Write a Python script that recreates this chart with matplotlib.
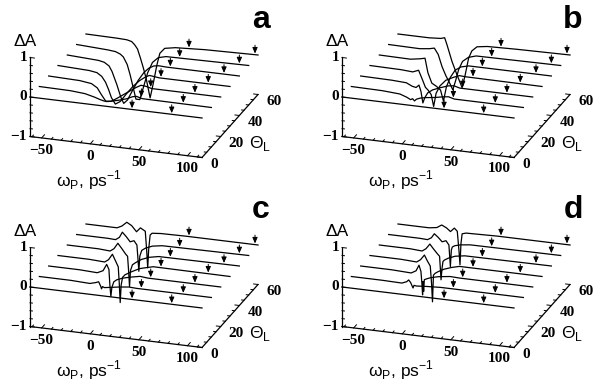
import numpy as np
import matplotlib
matplotlib.use('Agg')
import matplotlib.pyplot as plt

plt.rcParams['font.family'] = ['Liberation Sans', 'DejaVu Sans']

# angles of the traces and probe-frequency range
theta_list = [0, 10, 20, 30, 40, 50, 60]
w_lo, w_hi = -62, 115
theta_top = 60

# arrow marks (same in all panels)
arrow_w1 = [43, 43, 43, 44, 44, 44, 44]
arrow_w2 = [83.8, 86.1, 88.5, 92.6, 99.2, 105.4, 111.9]

# ---- panel a ----
a_w = [
    [-62, 115],
    [-62, -30, -15, -5, 0, 5, 12, 20, 28, 34, 38, 44, 115],
    [-62, -30, -18, -12, -8, -3, 2, 8, 15, 22, 28, 33, 38, 44, 115],
    [-62, -30, -22, -17, -13, -10, -7, -3, 2, 8, 15, 22, 28, 32, 36, 42, 115],
    [-62, -30, -24, -19, -16, -11, -7, -4, 0, 5, 11, 17, 22, 27, 32, 40, 115],
    [-62, -30, -22, -17, -14, -10, -7, -4, -1, 3, 7, 11, 16, 22, 30, 115],
    [-62, -30, -20, -15, -12, -9, -6, -3, 0, 4, 7, 11, 14, 19, 30, 60, 115],
]
a_dA = [
    [0, 0],
    [0, -0.01, -0.04, -0.1, -0.14, -0.17, -0.15, -0.1, -0.04, 0.03, 0.05, 0.01, 0],
    [0, -0.02, -0.06, -0.15, -0.3, -0.47, -0.45, -0.36, -0.24, -0.12, -0.02, 0.05, 0.04, 0, 0],
    [0, -0.03, -0.06, -0.14, -0.28, -0.45, -0.65, -0.8, -0.72, -0.52, -0.3, -0.13, -0.02, 0.03, 0.02, 0, 0],
    [0, -0.04, -0.07, -0.15, -0.28, -0.6, -0.9, -1.05, -0.95, -0.7, -0.42, -0.2, -0.08, -0.01, 0.01, 0, 0],
    [0, -0.04, -0.06, -0.11, -0.17, -0.35, -0.6, -0.9, -1.2, -1.2, -0.85, -0.5, -0.22, -0.08, -0.03, 0],
    [0, -0.01, -0.02, -0.05, -0.12, -0.22, -0.44, -0.68, -0.95, -1.42, -1.07, -0.56, -0.26, -0.12, -0.07, -0.03, 0],
]

# ---- panel b ----
b_w = [
    [-62, 115],
    [-62, -30, -12, -5, -1, 1, 3, 5, 9, 15, 24, 32, 38, 44, 115],
    [-62, -30, -15, -9, -5, -2, 0, 2, 4, 7, 12, 20, 28, 34, 40, 115],
    [-62, -30, -18, -12, -8, -5, -2, 1, 3.5, 6, 10, 16, 24, 30, 36, 115],
    [-62, -30, -20, -15, -12, -8, -3, 1, 4, 7, 11, 16, 22, 30, 115],
    [-62, -30, -20, -15, -11, -7, -3, 0, 4, 7, 10, 14, 20, 28, 115],
    [-62, -30, -18, -14, -11.6, -6.4, -1.3, 4, 7.2, 10.7, 14, 19.3, 30, 60, 115],
]
b_dA = [
    [0, 0],
    [0, -0.01, -0.04, -0.1, -0.15, -0.12, -0.17, -0.12, -0.08, -0.05, -0.02, 0.02, 0.04, 0, 0],
    [0, -0.01, -0.03, -0.1, -0.12, -0.05, -0.2, -0.49, -0.35, -0.22, -0.13, -0.05, 0.02, 0.04, 0, 0],
    [0, -0.01, -0.03, 0.03, -0.2, -0.38, -0.45, -0.55, -0.84, -0.5, -0.3, -0.14, -0.04, 0.02, 0.01, 0],
    [0, -0.01, 0.03, 0.06, -0.3, -0.55, -0.62, -0.7, -0.97, -0.6, -0.35, -0.15, -0.05, 0, 0],
    [0, -0.01, 0.02, 0.05, -0.1, -0.4, -0.62, -0.75, -0.95, -0.7, -0.42, -0.2, -0.08, -0.02, 0],
    [0, 0, 0.02, 0.05, -0.12, -0.53, -0.85, -1.16, -0.82, -0.39, -0.2, -0.08, -0.04, -0.02, 0],
]

# ---- panel c ----
c_w = [
    [-62, 115],
    [-62, -30, -10, -4, -1, 1, 2, 3, 5, 10, 20, 30, 38, 115],
    [-62, -30, -12, -6, -2.3, 0, 1, 2, 3, 5, 8, 14, 22, 32, 40, 115],
    [-62, -30, -14, -10, -6, -3, 0, 1, 2, 3, 4.5, 7, 14, 22, 28, 36, 115],
    [-62, -30, -18, -14, -10, -6, -2, 0, 1, 2, 3, 5, 8, 14, 22, 32, 115],
    [-62, -30, -22, -18, -15, -11, -7, -3, 0, 1, 2, 3, 5, 9, 16, 26, 115],
    [-62, -30, -25, -20, -15, -10, -6, -1, 0.5, 1.5, 2.5, 4, 6, 15, 40, 115],
]
c_dA = [
    [0, 0],
    [0, 0, -0.02, 0.02, 0.05, -0.05, -0.12, -0.06, -0.08, -0.06, -0.02, 0.01, 0, 0],
    [0, 0, -0.02, 0.05, 0.22, 0.1, -0.3, -0.58, -0.35, -0.2, -0.14, -0.08, -0.03, 0.02, 0, 0],
    [0, 0, -0.02, 0.05, 0.2, 0.05, -0.1, -0.5, -1.0, -0.55, -0.35, -0.28, -0.18, -0.08, -0.04, 0.01, 0],
    [0, 0, -0.02, 0.05, 0.2, 0.08, -0.05, -0.1, -0.45, -0.86, -0.45, -0.3, -0.24, -0.14, -0.06, -0.01, 0],
    [0, 0, -0.01, 0.06, 0.2, 0.1, -0.02, 0.02, -0.08, -0.4, -0.74, -0.35, -0.2, -0.13, -0.06, -0.02, 0],
    [0, 0, 0.06, 0.17, 0.1, -0.04, 0.07, 0, -0.5, -0.92, -0.45, -0.08, -0.03, -0.01, 0, 0],
]

# ---- panel d ----
d_w = [
    [-62, 115],
    [-62, -30, -10, -5, -3, -1, 0.5, 1.5, 2.5, 5, 15, 30, 115],
    [-62, -30, -10, -5, -2, 0, 1, 1.7, 2.2, 2.8, 3.5, 6, 10, 18, 30, 40, 115],
    [-62, -30, -14, -10, -6, -3, 0, 1.3, 2.3, 3.3, 5, 8, 14, 22, 30, 115],
    [-62, -30, -18, -14, -10, -6, -2, 0, 1.5, 2.5, 3.5, 5, 9, 16, 26, 115],
    [-62, -30, -22, -18, -15, -11, -7, -3, 0, 1.5, 2.5, 3.5, 6, 12, 22, 115],
    [-62, -30, -22, -17, -12, -8, -4, -1, 0.8, 1.8, 2.8, 4, 8, 40, 115],
]
d_dA = [
    [0, 0],
    [0, 0, -0.01, 0.04, 0.09, 0.03, -0.05, -0.1, -0.03, -0.04, -0.02, 0, 0],
    [0, 0, -0.02, 0.05, 0.2, 0.05, -0.25, -0.54, -0.2, -0.45, -0.15, -0.12, -0.08, -0.03, 0.01, 0, 0],
    [0, 0, -0.02, 0.05, 0.18, 0.04, -0.08, -0.5, -0.98, -0.3, -0.25, -0.2, -0.12, -0.05, 0, 0],
    [0, 0, -0.02, 0.05, 0.18, 0.06, -0.05, -0.1, -0.69, -0.4, -0.22, -0.18, -0.12, -0.05, -0.01, 0],
    [0, 0, -0.01, 0.05, 0.16, 0.08, -0.02, 0.02, -0.08, -0.62, -0.2, -0.12, -0.08, -0.04, -0.01, 0],
    [0, 0, 0.03, 0.11, 0.05, -0.03, 0.07, 0, -0.5, -0.84, -0.3, -0.05, -0.02, 0, 0],
]

# oblique projection (pixels inside a panel)
X0, Y0 = 30.0, 97.0
KX, KY = 0.972, 0.1186
TX, TY = 0.933, -1.05
KA = 39.5
tick_font = dict(fontsize=11, family='Liberation Serif', fontweight='bold')


def proj(w, th, a):
    w = np.asarray(w, dtype=float)
    x = X0 + KX * (w - w_lo) + TX * np.asarray(th, dtype=float)
    y = Y0 + KY * (w - w_lo) + TY * np.asarray(th, dtype=float) - KA * np.asarray(a, dtype=float)
    return x, y


def draw_box(ax):
    lw = 0.9
    # three edges
    x, y = proj([w_lo, w_lo], [0, 0], [-1, 1])
    ax.plot(x, y, 'k', lw=lw)
    x, y = proj([w_lo, w_hi], [0, 0], [-1, -1])
    ax.plot(x, y, 'k', lw=lw)
    x, y = proj([w_hi, w_hi], [0, theta_top], [-1, -1])
    ax.plot(x, y, 'k', lw=lw)

    # dA ticks
    for a in np.arange(-1, 1.01, 0.2):
        ln = 4.5 if abs(a - round(a)) < 1e-6 else 2.5
        x, y = proj([w_lo, w_lo + ln], [0, 0], [a, a])
        ax.plot(x, y, 'k', lw=0.7)
    for a in [-1, 0, 1]:
        x, y = proj(w_lo, 0, a)
        lab = '\u22121' if a < 0 else str(a)
        ax.text(x - 3, y, lab, ha='right', va='center', **tick_font)

    # w ticks
    for t in range(-60, 111, 10):
        ln = 3.0 if t % 50 == 0 else 1.6
        x, y = proj([t, t], [0, ln], [-1, -1])
        ax.plot(x, y, 'k', lw=0.7)
    for t in [-50, 0, 50, 100]:
        x, y = proj(t, 0, -1)
        lab = '\u221250' if t < 0 else str(t)
        ax.text(x, y + 13, lab, ha='center', va='center', **tick_font)

    # theta ticks
    for t in range(0, theta_top + 1, 5):
        ln = 4.5 if t % 20 == 0 else 2.5
        x, y = proj([w_hi, w_hi - ln], [t, t], [-1, -1])
        ax.plot(x, y, 'k', lw=0.7)
    for t in [0, 20, 40, 60]:
        x, y = proj(w_hi, t, -1)
        ax.text(x + 8, y + 7, str(t), ha='left', va='center', **tick_font)

    ax.text(25, 41, '\u0394A', ha='center', va='center', fontsize=12.5)
    ax.text(56, 186, '\u03c9$_\\mathregular{P}$, ps$^\\mathregular{-1}$',
            ha='left', va='baseline', fontsize=12.5)
    ax.text(249, 148, '\u0398$_\\mathregular{L}$', ha='left', va='baseline',
            fontsize=12.5)


def draw_panel(ax, letter, w_sets, a_sets):
    draw_box(ax)
    for i, th in enumerate(theta_list):
        w = np.array(w_sets[i], dtype=float)
        a = np.array(a_sets[i], dtype=float)
        x, y = proj(w, th, a)
        ax.plot(x, y, 'k', lw=0.9, solid_joinstyle='round')
        for wa in (arrow_w1[i], arrow_w2[i]):
            a_here = np.interp(wa, w, a)
            xt, yt = proj(wa, th, a_here + 0.03)
            xs, ys = proj(wa, th, a_here + 0.24)
            ax.annotate('', xy=(xt, yt), xytext=(xs, ys),
                        arrowprops=dict(arrowstyle='-|>,head_length=0.5,head_width=0.22',
                                        lw=0.7, color='k', mutation_scale=7,
                                        shrinkA=0, shrinkB=0))
    ax.text(261, 28, letter, ha='center', va='baseline', fontsize=23,
            fontweight='bold')


fig = plt.figure(figsize=(5.95, 3.85), dpi=100)
W, H = 595.0, 385.0
rects = [(0, 0, 312, 192), (312, 0, 283, 192), (0, 190, 312, 195), (312, 190, 283, 195)]
panels = [('a', a_w, a_dA), ('b', b_w, b_dA), ('c', c_w, c_dA), ('d', d_w, d_dA)]

for (px, py, pw, ph), (letter, ws, As) in zip(rects, panels):
    ax = fig.add_axes([px / W, 1 - (py + ph) / H, pw / W, ph / H])
    ax.set_xlim(0, pw)
    ax.set_ylim(ph, 0)
    ax.axis('off')
    draw_panel(ax, letter, ws, As)

plt.savefig('out.png', dpi=100)
